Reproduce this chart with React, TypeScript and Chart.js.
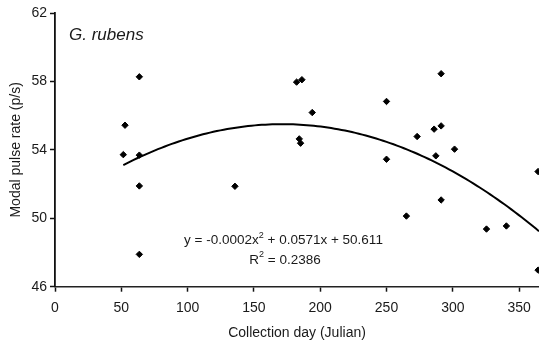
import React, { useEffect, useRef } from "react";
import { Chart, registerables } from "chart.js";

Chart.register(...registerables);

const SPECIES = "G. rubens";
const X_TITLE = "Collection day (Julian)";
const Y_TITLE = "Modal pulse rate (p/s)";
const EQ_PART1 = "y = -0.0002x";
const EQ_SUP = "2";
const EQ_PART2 = " + 0.0571x + 50.611";
const R2_PART1 = "R";
const R2_PART2 = " = 0.2386";

const collectionDay = [
  51.5, 52.8, 63.6, 63.6, 63.6, 63.6, 135.7, 182.2, 186.2, 194, 184.2, 185.2,
  250, 250, 291.2, 291.2, 285.9, 273.1, 287.2, 301.3, 364.3, 265, 291.2, 325.4,
  340.4, 364.3,
];
const pulseRate = [
  53.72, 55.44, 58.27, 53.69, 51.89, 47.89, 51.87, 57.96, 58.1, 56.18, 54.64,
  54.39, 56.83, 53.45, 58.45, 55.4, 55.21, 54.78, 53.65, 54.04, 52.73, 50.13,
  51.07, 49.37, 49.55, 46.97,
];

// polynomial trendline coefficients (a, b, c) of y = a x^2 + b x + c
const trendCoeffs = [-0.0001667, 0.0571, 50.611];

const X_MIN = 0;
const X_MAX = 365;
const X_STEP = 50;
const Y_MIN = 46;
const Y_MAX = 62;
const Y_STEP = 4;

const FONT = '"Liberation Sans", Arial, Helvetica, sans-serif';
const TEXT = "#1a1a1a";

export default function App() {
  const ref = useRef<HTMLCanvasElement | null>(null);

  useEffect(() => {
    document.body.style.margin = "0";
    const canvas = ref.current;
    if (!canvas) return;

    const [a, b, c] = trendCoeffs;
    const xStart = Math.min(...collectionDay);
    const trend: { x: number; y: number }[] = [];
    const n = 120;
    for (let i = 0; i <= n; i++) {
      const x = xStart + ((X_MAX - xStart) * i) / n;
      trend.push({ x, y: a * x * x + b * x + c });
    }

    const annot = {
      id: "annot",
      afterDraw(chart: any) {
        const { ctx, chartArea } = chart;
        ctx.save();
        ctx.fillStyle = TEXT;
        ctx.textBaseline = "middle";
        ctx.textAlign = "left";
        ctx.font = `italic 17px ${FONT}`;
        ctx.fillText(SPECIES, chartArea.left + 14, chartArea.top + 22);

        const big = `13.5px ${FONT}`;
        const small = `9px ${FONT}`;
        ctx.font = big;
        const w1 = ctx.measureText(EQ_PART1).width;
        const w3 = ctx.measureText(EQ_PART2).width;
        ctx.font = small;
        const w2 = ctx.measureText(EQ_SUP).width;
        const total = w1 + w2 + w3;
        const cx = chartArea.left + 228.5;
        const cy = chartArea.top + 227.6;
        let x0 = cx - total / 2;
        ctx.font = big;
        ctx.fillText(EQ_PART1, x0, cy);
        ctx.font = small;
        ctx.fillText(EQ_SUP, x0 + w1, cy - 5);
        ctx.font = big;
        ctx.fillText(EQ_PART2, x0 + w1 + w2, cy);

        ctx.font = big;
        const r1 = ctx.measureText(R2_PART1).width;
        const r3 = ctx.measureText(R2_PART2).width;
        ctx.font = small;
        const r2 = ctx.measureText(EQ_SUP).width;
        const rt = r1 + r2 + r3;
        const ry = chartArea.top + 246.9;
        x0 = chartArea.left + 230 - rt / 2;
        ctx.font = big;
        ctx.fillText(R2_PART1, x0, ry);
        ctx.font = small;
        ctx.fillText(EQ_SUP, x0 + r1, ry - 5);
        ctx.font = big;
        ctx.fillText(R2_PART2, x0 + r1 + r2, ry);
        ctx.restore();
      },
    };

    const chart = new Chart(canvas, {
      type: "scatter",
      data: {
        datasets: [
          {
            label: "data",
            data: collectionDay.map((x, i) => ({ x, y: pulseRate[i] })),
            pointStyle: "rectRot",
            pointRadius: 3.2,
            pointBorderWidth: 1,
            backgroundColor: "#000",
            borderColor: "#000",
            showLine: false,
          },
          {
            label: "trend",
            data: trend,
            showLine: true,
            pointRadius: 0,
            borderColor: "#000",
            borderWidth: 2,
            tension: 0,
          },
        ],
      },
      options: {
        responsive: false,
        animation: false,
        devicePixelRatio: 1,
        layout: {
          autoPadding: false,
          padding: { top: 13, right: 0, left: 0, bottom: 0 },
        },
        plugins: {
          legend: { display: false },
          tooltip: { enabled: false },
        },
        scales: {
          x: {
            type: "linear",
            min: X_MIN,
            max: X_MAX,
            afterFit: (s: any) => {
              s.height = 55.3;
              s.paddingRight = 0;
              s.paddingLeft = 0;
            },
            ticks: {
              stepSize: X_STEP,
              includeBounds: false,
              color: TEXT,
              font: { family: FONT, size: 14 },
              padding: 8.5,
              maxRotation: 0,
            },
            grid: {
              drawOnChartArea: false,
              drawTicks: true,
              tickLength: 5,
              tickColor: "#111",
              tickWidth: 1.5,
            },
            border: { display: true, color: "#222", width: 1.5 },
            title: {
              display: true,
              text: X_TITLE,
              color: TEXT,
              font: { family: FONT, size: 14 },
              padding: { top: 0, bottom: 0.5 },
            },
          },
          y: {
            type: "linear",
            min: Y_MIN,
            max: Y_MAX,
            afterFit: (s: any) => {
              s.width = 55;
            },
            ticks: {
              stepSize: Y_STEP,
              color: TEXT,
              font: { family: FONT, size: 14 },
              padding: 3,
            },
            grid: {
              drawOnChartArea: false,
              drawTicks: true,
              tickLength: 5,
              tickColor: "#111",
              tickWidth: 1.5,
            },
            border: { display: true, color: "#111", width: 1.8 },
            title: {
              display: true,
              text: Y_TITLE,
              color: TEXT,
              font: { family: FONT, size: 14 },
              padding: { top: 8, bottom: 0 },
            },
          },
        },
      },
      plugins: [annot],
    });

    return () => chart.destroy();
  }, []);

  return (
    <div style={{ width: 539, height: 342 }}>
      <canvas ref={ref} width={539} height={342} style={{ display: "block" }} />
    </div>
  );
}
